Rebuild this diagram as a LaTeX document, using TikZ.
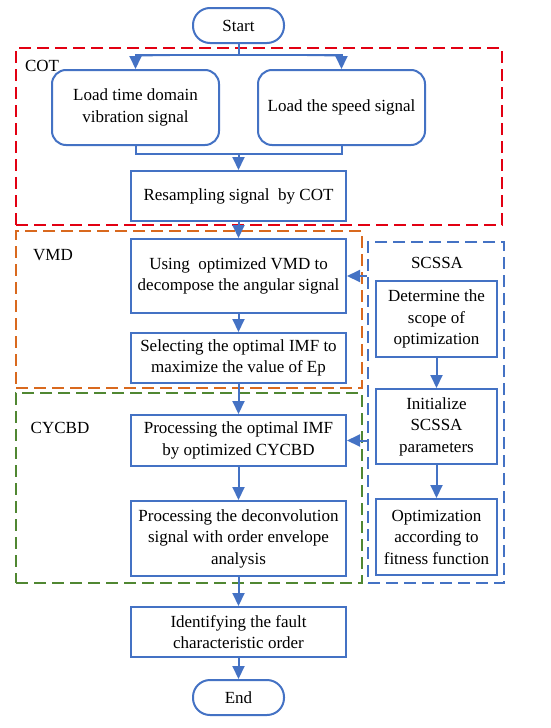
\documentclass[tikz,border=0pt]{standalone}
\usepackage{fontspec}
\setmainfont{Liberation Serif}
\usetikzlibrary{positioning,arrows.meta,calc}
\definecolor{flowblue}{RGB}{68,114,196}
\definecolor{cotred}{RGB}{226,0,18}
\definecolor{vmdorange}{RGB}{217,105,30}
\definecolor{cycgreen}{RGB}{80,135,50}
\tikzset{
    % Process boxes
    process/.style={
        draw=flowblue,
        line width=2pt,
        fill=white,
        minimum width=215pt,
        minimum height=50pt,
        align=center,
        inner sep=2pt,
        font=\fontsize{17}{21.5}\selectfont
    },
    % Start / end terminals
    terminal/.style={
        process,
        rounded corners=17pt,
        minimum width=91pt,
        minimum height=35pt
    },
    % Loading boxes
    loadbox/.style={
        process,
        rounded corners=14pt,
        minimum width=167pt,
        minimum height=75pt
    },
    % Optimizer boxes
    optbox/.style={
        process,
        minimum width=121pt,
        minimum height=76pt
    },
    % Dashed group frames
    groupbox/.style={
        draw=#1,
        line width=2.2pt,
        dash pattern=on 12pt off 6pt,
        inner sep=0pt
    },
    % Group labels
    grouplabel/.style={
        font=\fontsize{17}{21.5}\selectfont
    },
    % Arrows
    flowarrow/.style={
        -{Triangle[length=13pt,width=12pt]},
        line width=2pt,
        draw=flowblue,
        fill=flowblue
    },
    flowline/.style={
        line width=2pt,
        draw=flowblue
    }
}

\begin{document}
\begin{tikzpicture}[x=1pt,y=-1pt]
\useasboundingbox (0,0) rectangle (550,728);

% === GROUP FRAMES ===
\node[groupbox=cotred, minimum width=486pt, minimum height=177pt] (cotbox) at (259,136.5) {};
\node[groupbox=vmdorange, minimum width=346pt, minimum height=157pt] (vmdbox) at (189,309.5) {};
\node[groupbox=cycgreen, minimum width=346pt, minimum height=190pt] (cycbox) at (189,488) {};
\node[groupbox=flowblue, minimum width=136pt, minimum height=341pt] (scssabox) at (436,412.5) {};

\node[grouplabel] (cotlabel) at (42,66) {COT};
\node[grouplabel] (vmdlabel) at (53,255) {VMD};
\node[grouplabel] (cyclabel) at (60,428) {CYCBD};
\node[grouplabel] (scssalabel) at (437,263) {SCSSA};

% === MAIN FLOW ===
\node[terminal] (start) at (238.5,25.5) {Start};

\node[loadbox] (loadvib) at (135.5,107.5) {Load time domain\\vibration signal};
\node[loadbox] (loadspd) at (341.5,107.5) {Load the speed signal};

\node[process] (resample) at (238.5,196) {Resampling signal~~by COT};

\node[process, minimum height=74pt] (decomp) at (238.5,276) {
    Using~~optimized VMD to\\
    decompose the angular signal
};
\node[process, below=18pt of decomp] (select) {
    Selecting the optimal IMF to\\
    maximize the value of Ep
};

\node[process, minimum height=51pt] (cycbd) at (238.5,440.5) {
    Processing the optimal IMF\\
    by optimized CYCBD
};
\node[process, minimum height=75pt, below=33pt of cycbd] (envelope) {
    Processing the deconvolution\\
    signal with order envelope\\
    analysis
};

\node[process] (identify) at (238.5,632) {
    Identifying the fault\\
    characteristic order
};
\node[terminal] (finish) at (238.5,697.5) {End};

% === SCSSA COLUMN ===
\node[optbox] (scope) at (436.5,319) {Determine the\\scope of\\optimization};
\node[optbox, minimum height=75pt, below=30pt of scope] (init) {Initialize\\SCSSA\\parameters};
\node[optbox, below=33pt of init] (fitness) {Optimization\\according to\\fitness function};

% === CONNECTORS ===
\coordinate (split) at ($(start.south)+(0,11)$);
\draw[flowline] (start.south) -- (split);
\draw[flowarrow] (split) -| (loadvib.north);
\draw[flowarrow] (split) -| (loadspd.north);

\coordinate (merge) at ($(resample.north)+(0,-16)$);
\draw[flowline] (loadvib.south) |- (merge);
\draw[flowline] (loadspd.south) |- (merge);
\draw[flowarrow] (merge) -- (resample.north);

\draw[flowarrow] (resample) -- (decomp);
\draw[flowarrow] (decomp) -- (select);
\draw[flowarrow] (select) -- (cycbd);
\draw[flowarrow] (cycbd) -- (envelope);
\draw[flowarrow] (envelope) -- (identify);
\draw[flowarrow] (identify) -- (finish);

\draw[flowarrow] (scope) -- (init);
\draw[flowarrow] (init) -- (fitness);

\draw[flowarrow] (scssabox.west |- decomp.east) -- (decomp.east);
\draw[flowarrow] (scssabox.west |- cycbd.east) -- (cycbd.east);

\end{tikzpicture}
\end{document}
